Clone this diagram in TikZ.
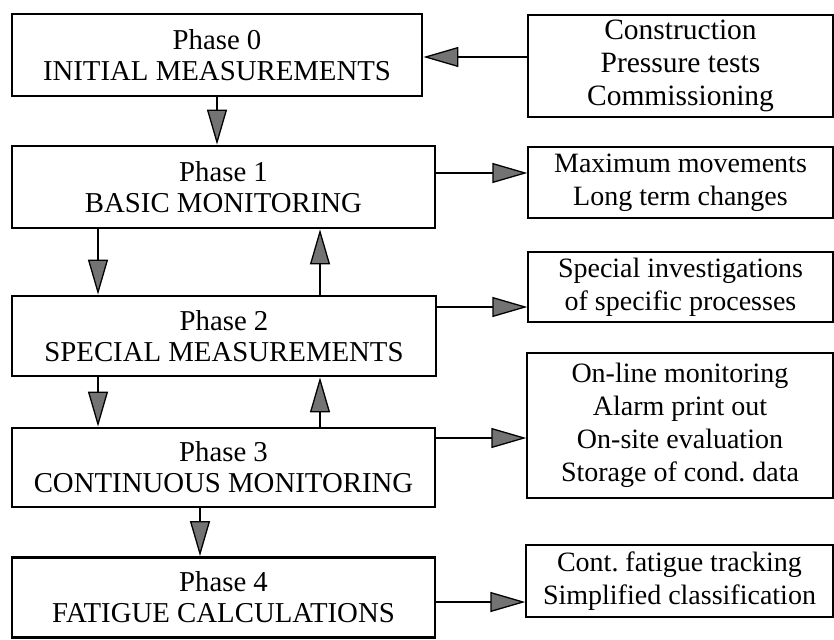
\documentclass[tikz,border=0pt]{standalone}
\usepackage{fontspec}
\setmainfont{Liberation Serif}
\usetikzlibrary{arrows.meta,positioning,calc}
\colorlet{ink}{black}
\colorlet{tipfill}{black!55}

\begin{document}
\begin{tikzpicture}[x=1pt,y=-1pt,
    phase/.style={draw=ink,line width=2.8pt,align=center,inner sep=0pt,
      font=\fontsize{28.8}{31}\selectfont},
    note/.style={draw=ink,line width=1.3pt,align=center,inner sep=0pt,
      font=\fontsize{28}{33}\selectfont},
    link/.style={ink,line width=1.3pt,-{Triangle[length=35pt,width=20pt,fill=tipfill]}}]
  \useasboundingbox (0,0) rectangle (834,639);
  \node[phase,minimum width=410pt,minimum height=82pt] (p0) at (217,55)
    {Phase 0\\INITIAL MEASUREMENTS};
  \node[phase,minimum width=423pt,minimum height=82pt] (p1) at (223.5,187)
    {Phase 1\\BASIC MONITORING};
  \node[phase,minimum width=424pt,minimum height=80pt] (p2) at (224,336)
    {Phase 2\\SPECIAL MEASUREMENTS};
  \node[phase,minimum width=423pt,minimum height=79pt] (p3) at (223.5,467.5)
    {Phase 3\\CONTINUOUS MONITORING};
  \node[phase,minimum width=423pt,minimum height=80pt] (p4) at (223.5,597.5)
    {Phase 4\\FATIGUE CALCULATIONS};
  \node[note,minimum width=305pt,minimum height=102pt,
    font=\fontsize{29.5}{33}\selectfont] (r0) at (680.5,66)
    {Construction\\Pressure tests\\Commissioning};
  \node[note,minimum width=305pt,minimum height=71pt] (r1) at (680.5,182.5)
    {Maximum movements\\Long term changes};
  \node[note,minimum width=305pt,minimum height=70pt] (r2) at (680.5,287)
    {Special investigations\\of specific processes};
  \node[note,minimum width=306pt,minimum height=145pt] (r3) at (680,425.5)
    {On-line monitoring\\Alarm print out\\On-site evaluation\\Storage of cond.\ data};
  \node[note,minimum width=307pt,minimum height=72pt] (r4) at (679.5,581)
    {Cont.\ fatigue tracking\\Simplified classification};
  \draw[link] (r0.west |- 0,57) -- (p0.east |- 0,57);
  \draw[link] (p1.east |- 0,173) -- (r1.west |- 0,173);
  \draw[link] (p2.east |- 0,307) -- (r2.west |- 0,307);
  \draw[link] (p3.east |- 0,438) -- (r3.west |- 0,438);
  \draw[link] (p4.east |- 0,602) -- (r4.west |- 0,602);
  \draw[link] (p0.south -| 217,0) -- (p1.north -| 217,0);
  \draw[link] (p1.south -| 98,0) -- (p2.north -| 98,0);
  \draw[link] (p2.north -| 320,0) -- (p1.south -| 320,0);
  \draw[link] (p2.south -| 98,0) -- (p3.north -| 98,0);
  \draw[link] (p3.north -| 320,0) -- (p2.south -| 320,0);
  \draw[link] (p3.south -| 200,0) -- (p4.north -| 200,0);
\end{tikzpicture}
\end{document}
